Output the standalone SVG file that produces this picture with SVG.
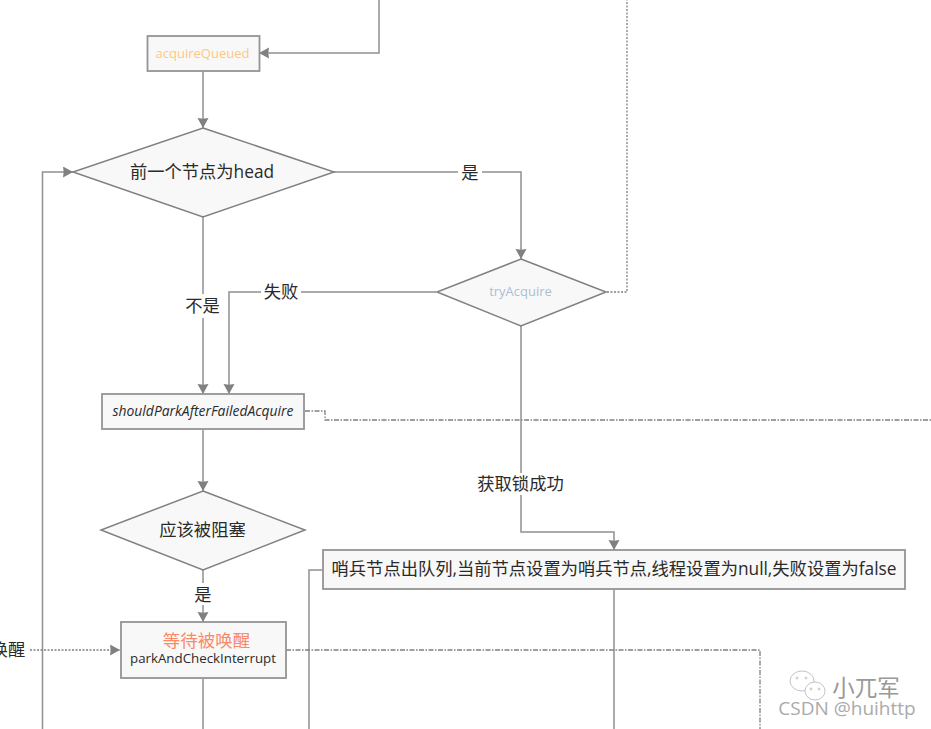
<svg xmlns="http://www.w3.org/2000/svg" width="931" height="729" viewBox="0 0 931 729">
<style>
text{font-family:"Open Sans","Noto Sans CJK SC",sans-serif;text-anchor:middle;fill:#2a2a2a}
.n{fill:#f8f8f8;stroke:#949494;stroke-width:1.8}
.d{fill:#f8f8f8;stroke:#808080;stroke-width:1.5}
.c{fill:none;stroke:#909090;stroke-width:1.5}
.dot{fill:none;stroke:#808080;stroke-width:1.3;stroke-dasharray:2 1.500}
.dd{fill:none;stroke:#808080;stroke-width:1.3;stroke-dasharray:5 1.500 1.500 1.500}
.l{font-size:17.300px}
.bg{fill:#fff;stroke:none}
</style>
<defs>
<marker id="a" markerUnits="userSpaceOnUse" markerWidth="12" markerHeight="12" refX="10" refY="5.500" orient="auto"><path d="M0 0L10 5.500L0 11L.7 5.500Z" fill="#808080"/></marker>
</defs>
<rect width="931" height="729" fill="#fff"/>
<g id="connectors">
<path class="c" d="M379 0V53H259" marker-end="url(#a)"/>
<path class="c" d="M203 71V128" marker-end="url(#a)"/>
<path class="c" d="M334 172H521V259" marker-end="url(#a)"/>
<path class="c" d="M203 217V394" marker-end="url(#a)"/>
<path class="c" d="M436 292H229V394" marker-end="url(#a)"/>
<path class="c" d="M521 326V532H614V550" marker-end="url(#a)"/>
<path class="c" d="M203 430V491" marker-end="url(#a)"/>
<path class="c" d="M203 570V622" marker-end="url(#a)"/>
<path class="c" d="M203 679V729"/>
<path class="c" d="M42.500 729V172H73" marker-end="url(#a)"/>
<path class="c" d="M322 570H309V729"/>
<path class="c" d="M614 590V729"/>
<path class="dot" d="M607 292H627V0"/>
<path class="dd" d="M305 411H325V420H931"/>
<path class="dot" d="M30 650H120" marker-end="url(#a)"/>
<path class="dd" d="M286 650H760V729"/>
</g>
<g id="label-yes1"><rect class="bg" x="458" y="162" width="24" height="22"/><text class="l" x="470" y="178.500">是</text></g>
<g id="label-no"><rect class="bg" x="184" y="294" width="38" height="24"/><text class="l" x="202.500" y="311.500">不是</text></g>
<g id="label-fail"><rect class="bg" x="261" y="282" width="40" height="22"/><text class="l" x="281" y="298">失败</text></g>
<g id="label-success"><rect class="bg" x="476" y="473" width="90" height="22"/><text class="l" x="520.500" y="490">获取锁成功</text></g>
<g id="label-yes2"><rect class="bg" x="192" y="583" width="22" height="22"/><text class="l" x="203" y="601">是</text></g>
<g id="label-wake"><text class="l" x="8" y="656">唤醒</text></g>
<g id="acquireQueued"><rect class="n" x="147.500" y="36" width="112" height="35"/><text x="202.500" y="58" font-size="13" style="fill:#fdc97f">acquireQueued</text></g>
<g id="head"><polygon class="d" points="203,128 334,172 203,217 73,172"/><text x="202" y="177.500" font-size="17.300">前一个节点为head</text></g>
<g id="tryAcquire"><polygon class="d" points="521,259 606,292 521,326 437,292"/><text x="520.500" y="296" font-size="13" style="fill:#a9bfd2">tryAcquire</text></g>
<g id="shouldPark"><rect class="n" x="102" y="394" width="202" height="35"/><text x="203" y="416" font-size="13.900" font-style="italic">shouldParkAfterFailedAcquire</text></g>
<g id="shouldBlock"><polygon class="d" points="203,491 305,530 203,570 101,530"/><text x="202.500" y="536" font-size="17.300">应该被阻塞</text></g>
<g id="sentinel"><rect class="n" x="323" y="550" width="582" height="39"/><text x="614" y="575" font-size="17.300">哨兵节点出队列,当前节点设置为哨兵节点,线程设置为null,失败设置为false</text></g>
<g id="park"><rect class="n" x="121" y="622" width="165" height="56"/><text x="206.500" y="647" font-size="17.500" style="fill:#f98a66">等待被唤醒</text><text x="203" y="663" font-size="13.300">parkAndCheckInterrupt</text></g>
<g id="watermark" fill="none" stroke="#c4c4c4" stroke-width="1">
<ellipse cx="802" cy="681" rx="12" ry="10"/><ellipse cx="815" cy="691" rx="10" ry="9" fill="#fff"/>
<circle cx="797" cy="678" r="1"/><circle cx="806" cy="678" r="1"/><circle cx="811" cy="689" r="1"/><circle cx="819" cy="689" r="1"/>
<text x="866" y="696" font-size="22.500" style="fill:#999;stroke:none">小兀军</text>
<text x="847" y="715" font-size="19" style="fill:#aaa;stroke:none">CSDN @huihttp</text>
</g>
</svg>
